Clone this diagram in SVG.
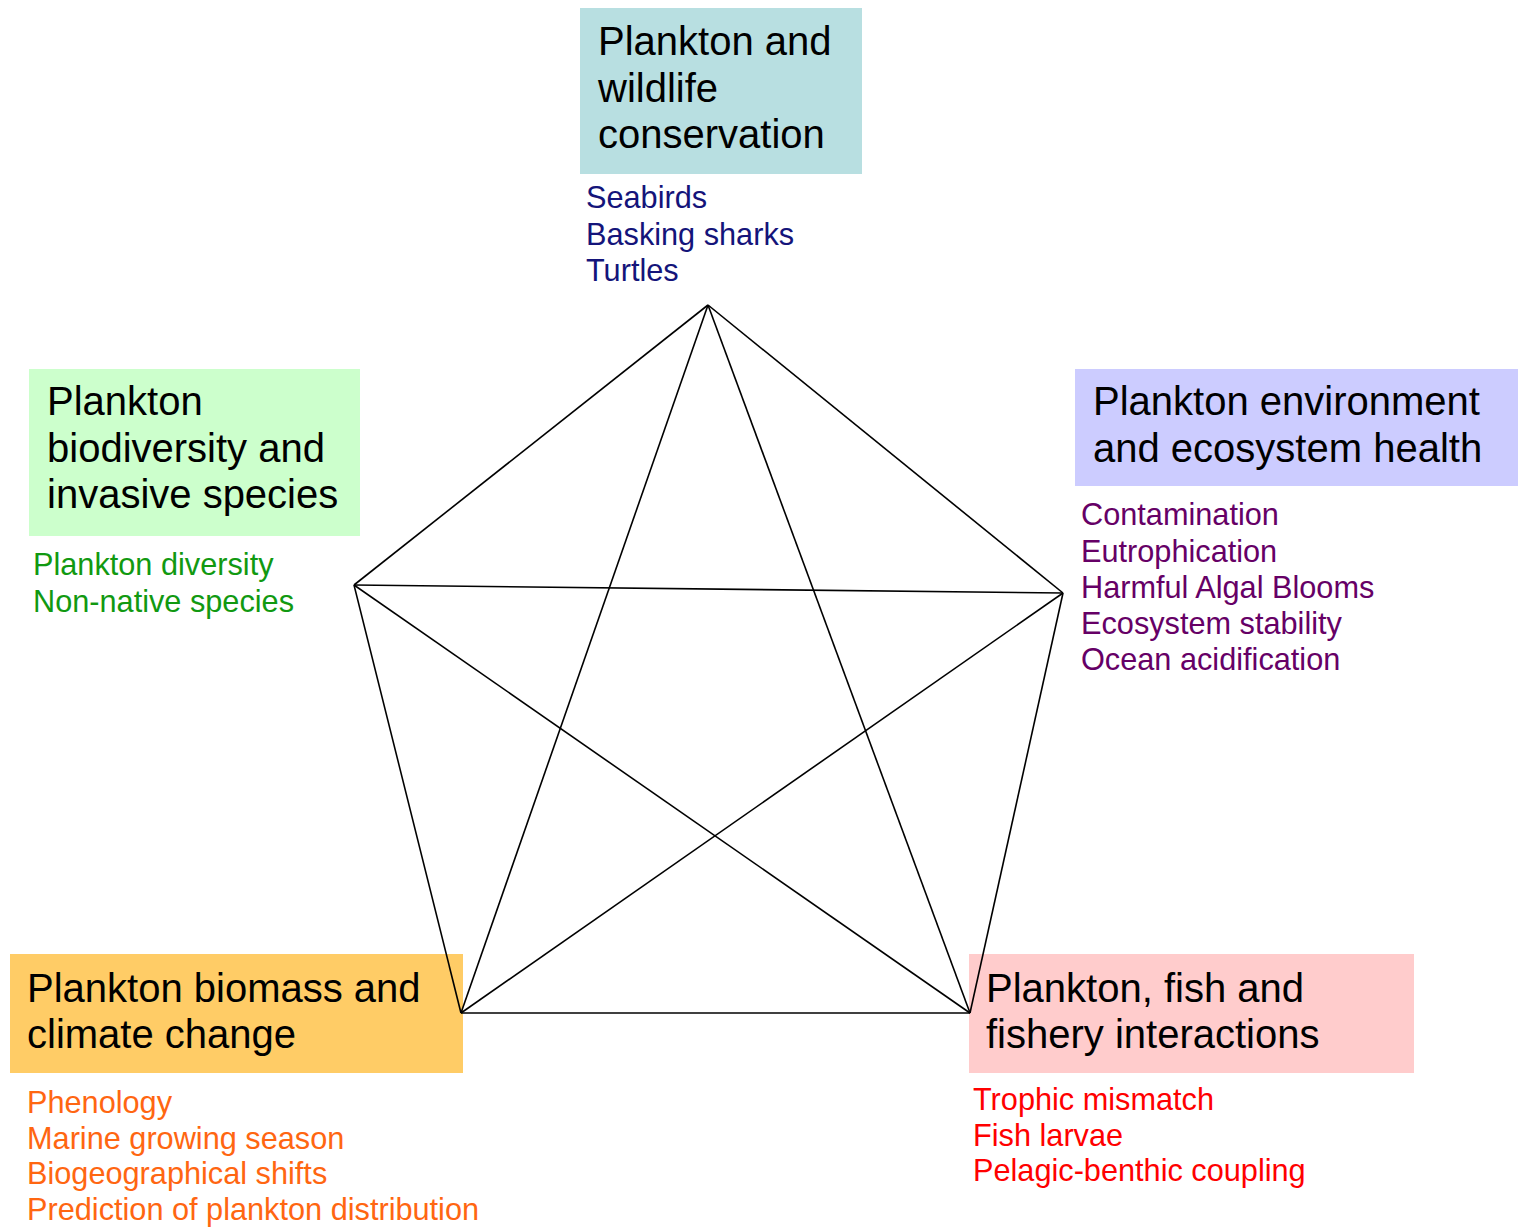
<svg xmlns="http://www.w3.org/2000/svg" width="1518" height="1229" viewBox="0 0 1518 1229">
  <style>
    .title { font-family: "Liberation Sans", Arial, sans-serif; font-size: 40px; fill: #000000; }
    .item { font-family: "Liberation Sans", Arial, sans-serif; font-size: 30.7px; }
    .navy { fill: #14147a; }
    .green { fill: #119911; }
    .purple { fill: #660066; }
    .orange { fill: #ff6611; }
    .red { fill: #ff0000; }
    .link { stroke: #000000; stroke-width: 1.6; fill: none; }
  </style>
  <rect width="1518" height="1229" fill="#ffffff"/>

  <!-- Theme boxes with their topic lists -->
  <g id="node-wildlife">
    <rect x="580" y="8" width="282" height="166" fill="#b8dfe1"/>
    <text class="title" x="598" y="55">Plankton and</text>
    <text class="title" x="598" y="101.5">wildlife</text>
    <text class="title" x="598" y="148">conservation</text>
    <text class="item navy" x="586" y="208">Seabirds</text>
    <text class="item navy" x="586" y="244.5">Basking sharks</text>
    <text class="item navy" x="586" y="281">Turtles</text>
  </g>

  <g id="node-biodiversity">
    <rect x="29" y="369" width="331" height="167" fill="#ccffcc"/>
    <text class="title" x="47" y="415">Plankton</text>
    <text class="title" x="47" y="461.5">biodiversity and</text>
    <text class="title" x="47" y="508">invasive species</text>
    <text class="item green" x="33" y="575">Plankton diversity</text>
    <text class="item green" x="33" y="612">Non-native species</text>
  </g>

  <g id="node-environment">
    <rect x="1075" y="369" width="443" height="117" fill="#ccccff"/>
    <text class="title" x="1093" y="415">Plankton environment</text>
    <text class="title" x="1093" y="461.5">and ecosystem health</text>
    <text class="item purple" x="1081" y="525">Contamination</text>
    <text class="item purple" x="1081" y="561.5">Eutrophication</text>
    <text class="item purple" x="1081" y="598">Harmful Algal Blooms</text>
    <text class="item purple" x="1081" y="634">Ecosystem stability</text>
    <text class="item purple" x="1081" y="670">Ocean acidification</text>
  </g>

  <g id="node-climate">
    <rect x="10" y="954" width="453" height="119" fill="#ffcc66"/>
    <text class="title" x="27" y="1002">Plankton biomass and</text>
    <text class="title" x="27" y="1048">climate change</text>
    <text class="item orange" x="27" y="1113">Phenology</text>
    <text class="item orange" x="27" y="1148.5">Marine growing season</text>
    <text class="item orange" x="27" y="1184">Biogeographical shifts</text>
    <text class="item orange" x="27" y="1219.5">Prediction of plankton distribution</text>
  </g>

  <g id="node-fishery">
    <rect x="969" y="954" width="445" height="119" fill="#ffcccc"/>
    <text class="title" x="986" y="1002">Plankton, fish and</text>
    <text class="title" x="986" y="1048">fishery interactions</text>
    <text class="item red" x="973" y="1110">Trophic mismatch</text>
    <text class="item red" x="973" y="1145.5">Fish larvae</text>
    <text class="item red" x="973" y="1181">Pelagic-benthic coupling</text>
  </g>

  <!-- Every theme linked to every other: pentagon plus star -->
  <g id="connectors">
    <line class="link" x1="708" y1="305" x2="354" y2="585"/>
    <line class="link" x1="708" y1="305" x2="1063" y2="593"/>
    <line class="link" x1="708" y1="305" x2="461" y2="1013"/>
    <line class="link" x1="708" y1="305" x2="970" y2="1013"/>
    <line class="link" x1="354" y1="585" x2="1063" y2="593"/>
    <line class="link" x1="354" y1="585" x2="461" y2="1013"/>
    <line class="link" x1="354" y1="585" x2="970" y2="1013"/>
    <line class="link" x1="1063" y1="593" x2="461" y2="1013"/>
    <line class="link" x1="1063" y1="593" x2="970" y2="1013"/>
    <line class="link" x1="461" y1="1013" x2="970" y2="1013"/>
  </g>
</svg>
